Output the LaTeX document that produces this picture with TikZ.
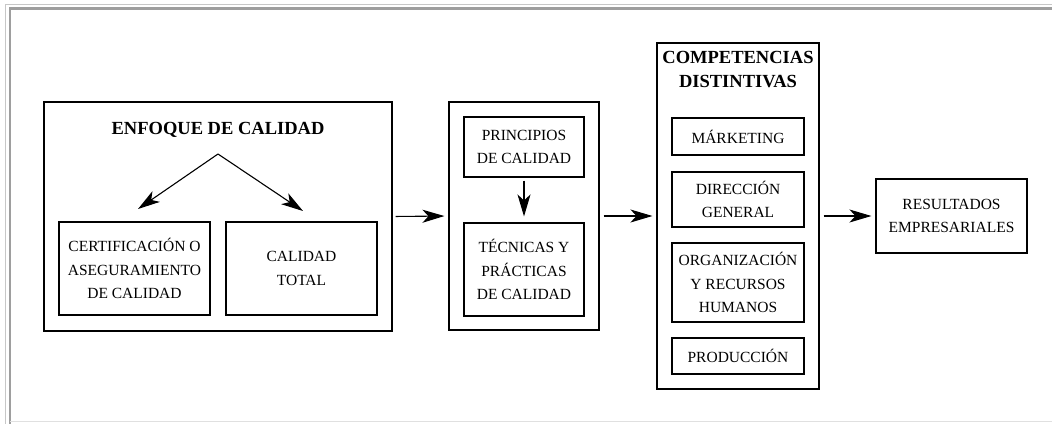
\documentclass[tikz,border=0pt]{standalone}
\usepackage{fontspec}
\setmainfont{Liberation Serif}
\usetikzlibrary{arrows.meta}
\begin{document}
\begin{tikzpicture}[x=1pt,y=-1pt,
  box/.style={draw=black,line width=1.1pt,inner sep=0pt,align=center,
    font=\fontsize{15.5}{23.5}\selectfont},
  frame/.style={draw=black,line width=1.1pt,inner sep=0pt},
  heading/.style={inner sep=0pt,align=center,font=\fontsize{18.5}{24}\selectfont\bfseries},
  flow/.style={line width=1.1pt,-{Stealth[length=22pt,width=13pt,inset=6pt]}}]
\useasboundingbox (0,0) rectangle (1052,423);
% outer page frame
\draw[color=black!22,line width=1.2pt] (5.5,430) -- (5.5,4.5) -- (1060,4.5);
\draw[color=black!38,line width=2.2pt] (10,430) -- (10,8.5) -- (1060,8.5);
\draw[color=black!12,line width=1.2pt] (10,421.5) -- (1060,421.5);
% quality approach
\node[frame,minimum width=348pt,minimum height=229pt] (enf) at (218,216.5) {};
\node[heading] (enft) at (218,130) {ENFOQUE DE CALIDAD};
\node[box,minimum width=151pt,minimum height=93pt] (cert) at (134.5,268.5)
  {CERTIFICACIÓN O\\ASEGURAMIENTO\\DE CALIDAD};
\node[box,minimum width=151pt,minimum height=93pt] (total) at (301.5,268.5)
  {CALIDAD\\TOTAL};
\coordinate (apex) at (218,154);
\coordinate (lft) at (138,209);
\coordinate (rgt) at (303,211);
\draw[flow] (apex) -- (lft);
\draw[flow] (apex) -- (rgt);
% principles and techniques
\node[frame,minimum width=150pt,minimum height=228pt] (mid) at (524,216) {};
\node[box,minimum width=120pt,minimum height=60pt] (prin) at (524,147)
  {PRINCIPIOS\\DE CALIDAD};
\node[box,minimum width=120pt,minimum height=93pt] (tec) at (524,269.5)
  {TÉCNICAS Y\\PRÁCTICAS\\DE CALIDAD};
\draw[flow,shorten <=3pt,shorten >=6pt] (prin) -- (tec);
% distinctive competences
\node[frame,minimum width=162pt,minimum height=346pt] (comp) at (738,216) {};
\node[heading] (compt) at (738,70) {COMPETENCIAS\\DISTINTIVAS};
\node[box,minimum width=132pt,minimum height=37pt] (mk) at (738,136.5) {MÁRKETING};
\node[box,minimum width=132pt,minimum height=55pt] (dir) at (738,199.5) {DIRECCIÓN\\GENERAL};
\node[box,minimum width=132pt,minimum height=79pt] (org) at (738,282.5) {ORGANIZACIÓN\\Y RECURSOS\\HUMANOS};
\node[box,minimum width=132pt,minimum height=36pt] (prod) at (738,356) {PRODUCCIÓN};
% results
\node[box,minimum width=151pt,minimum height=74pt] (res) at (951.5,216) {RESULTADOS\\EMPRESARIALES};
% main flow
\draw[flow,shorten <=3pt,shorten >=4pt] (enf.east) -- (mid.west);
\draw[flow,shorten <=4pt,shorten >=4pt] (mid.east) -- (comp.west);
\draw[flow,shorten <=4pt,shorten >=4pt] (comp.east) -- (res.west);
\end{tikzpicture}
\end{document}
